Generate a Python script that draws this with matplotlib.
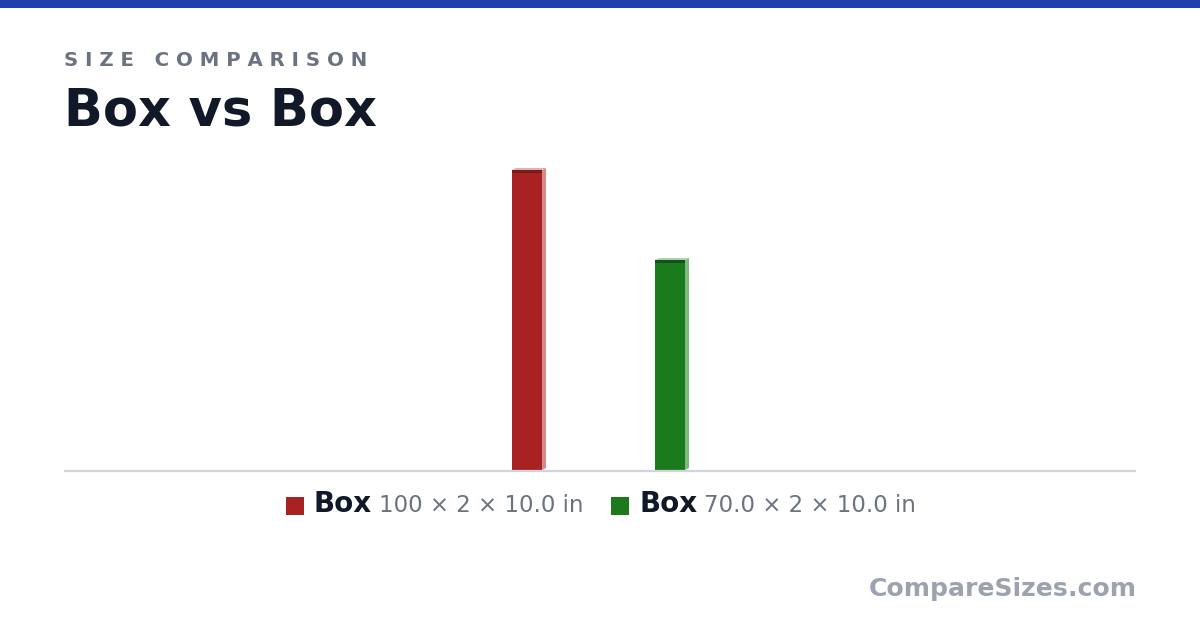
import matplotlib
matplotlib.use("Agg")
import matplotlib.pyplot as plt
from matplotlib.patches import Polygon, Rectangle

names = ["Box", "Box"]
lengths = [100, 70.0]
dim_labels = ["100 × 2 × 10.0 in", "70.0 × 2 × 10.0 in"]
front_colors = ["#a82222", "#1b7a1b"]
top_colors = ["#7a1a1a", "#14501a"]
side_colors = ["#d48a8a", "#7dbb7d"]
light_top = ["#e2b0b0", "#a8d4a8"]

W, H = 1200, 630
fig = plt.figure(figsize=(W / 100, H / 100), dpi=100)
fig.patch.set_facecolor("white")


def px(x, y):
    return x / W, 1 - y / H


# top accent strip
fig.add_artist(Rectangle((0, 1 - 8 / H), 1, 8 / H, transform=fig.transFigure,
                         color="#1e40af", lw=0))

fig.text(*px(64, 66), "S I Z E   C O M P A R I S O N", fontsize=14.2,
         fontweight="bold", color="#6b7280", va="baseline")
fig.text(*px(64, 125), "Box vs Box", fontsize=36.7, fontweight="bold",
         color="#111827", va="baseline")

# plot area: baseline at y=470, 300 px tall for 100 units
ax = fig.add_axes([64 / W, (H - 470) / H, 1072 / W, 300 / H])
ax.set_xlim(-463 / 143, 609 / 143)
ax.set_ylim(0, 100)
ax.axis("off")

bar_w = 30 / 143
dx = 4 / 143
dy = 2 / 3
xs = [0, 1]
for x, v, fc, tc, sc, lc in zip(xs, lengths, front_colors, top_colors,
                                side_colors, light_top):
    xl, xr = x - bar_w / 2, x + bar_w / 2
    ax.add_patch(Polygon([(xr, 0), (xr + dx, dy), (xr + dx, v + dy), (xr, v)],
                         closed=True, color=sc, lw=0, clip_on=False))
    ax.add_patch(Polygon([(xl, v), (xl + dx, v + dy), (xr + dx, v + dy), (xr, v)],
                         closed=True, color=lc, lw=0, clip_on=False))
    ax.bar(x, v, width=bar_w, color=fc, lw=0, clip_on=False)
    ax.bar(x, 1.1, bottom=v - 1.1, width=bar_w, color=tc, lw=0, clip_on=False)

ax.plot([ax.get_xlim()[0], ax.get_xlim()[1]], [-0.3, -0.3], color="#d1d5db",
        lw=1.6, clip_on=False, solid_capstyle="butt")

# legend
sq_x = [286, 611]
name_x = [314, 639]
dim_x = [379, 704]
for i in range(len(names)):
    x0, y0 = px(sq_x[i], 515)
    fig.add_artist(Rectangle((x0, y0), 18 / W, 18 / H, transform=fig.transFigure,
                             color=front_colors[i], lw=0))
    fig.text(*px(name_x[i], 512), names[i], fontsize=20, fontweight="bold",
             color="#111827", va="baseline")
    fig.text(*px(dim_x[i], 512), dim_labels[i], fontsize=16.5, color="#6b7280",
             va="baseline")

fig.text(*px(1137, 596), "CompareSizes.com", fontsize=18.1, fontweight="bold",
         color="#9ca3af", ha="right", va="baseline")

fig.savefig("out.png", dpi=100, facecolor="white")
